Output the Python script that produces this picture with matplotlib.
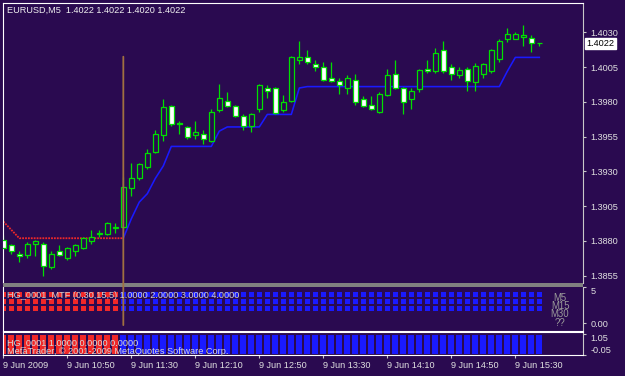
import numpy as np
import matplotlib.pyplot as plt
from matplotlib.patches import Rectangle, ConnectionPatch
from matplotlib.transforms import blended_transform_factory

plt.rcParams['font.family'] = ['Liberation Sans', 'DejaVu Sans']

# ---------------- Données (EURUSD M5, 9 Jun 2009, 10:10 -> 15:45)
opens = [1.3881, 1.3877, 1.3871, 1.3870, 1.3878, 1.3878, 1.3861, 1.3873, 1.3868, 1.3873,
         1.3875, 1.3880, 1.3885, 1.3885, 1.3889, 1.3890, 1.3918, 1.3925, 1.3933, 1.3944,
         1.3956, 1.3977, 1.3965, 1.3962, 1.3956, 1.3957, 1.3952, 1.3974, 1.3981, 1.3977,
         1.3970, 1.3963, 1.3975, 1.3990, 1.3990, 1.3974, 1.3981, 1.4010, 1.4012, 1.4007,
         1.4005, 1.3997, 1.3995, 1.3990, 1.3996, 1.3982, 1.3978, 1.3973, 1.3985, 1.4000,
         1.3990, 1.3982, 1.3989, 1.4004, 1.4002, 1.4017, 1.4005, 1.3999, 1.4004, 1.3994,
         1.4000, 1.4002, 1.4011, 1.4025, 1.4025, 1.4027, 1.4026, 1.4022]
highs = [1.3884, 1.3878, 1.3873, 1.3879, 1.3881, 1.3879, 1.3873, 1.3877, 1.3876, 1.3878,
         1.3883, 1.3888, 1.3888, 1.3894, 1.3893, 1.3926, 1.3936, 1.3936, 1.3946, 1.3960,
         1.3982, 1.3978, 1.3966, 1.3963, 1.3966, 1.3960, 1.3975, 1.3993, 1.3987, 1.3978,
         1.3971, 1.3972, 1.3993, 1.3992, 1.3991, 1.3985, 1.4013, 1.4024, 1.4017, 1.4010,
         1.4009, 1.4009, 1.3997, 1.3999, 1.4000, 1.3984, 1.3984, 1.3987, 1.4004, 1.4010,
         1.3991, 1.3990, 1.4004, 1.4010, 1.4019, 1.4024, 1.4007, 1.4005, 1.4005, 1.4008,
         1.4008, 1.4018, 1.4025, 1.4033, 1.4030, 1.4035, 1.4028, 1.4022]
lows = [1.3874, 1.3871, 1.3865, 1.3868, 1.3869, 1.3855, 1.3860, 1.3869, 1.3866, 1.3869,
        1.3874, 1.3878, 1.3883, 1.3884, 1.3886, 1.3889, 1.3912, 1.3924, 1.3932, 1.3943,
        1.3952, 1.3963, 1.3957, 1.3953, 1.3953, 1.3950, 1.3951, 1.3973, 1.3976, 1.3969,
        1.3960, 1.3958, 1.3973, 1.3983, 1.3971, 1.3973, 1.3980, 1.4007, 1.4007, 1.4002,
        1.3995, 1.3994, 1.3986, 1.3986, 1.3978, 1.3976, 1.3974, 1.3972, 1.3984, 1.3989,
        1.3971, 1.3975, 1.3987, 1.4001, 1.4001, 1.4001, 1.3996, 1.3997, 1.3988, 1.3988,
        1.3997, 1.4001, 1.4009, 1.4023, 1.4025, 1.4020, 1.4016, 1.4020]
closes = [1.3875, 1.3873, 1.3869, 1.3878, 1.3880, 1.3862, 1.3871, 1.3870, 1.3875, 1.3877,
          1.3882, 1.3883, 1.3886, 1.3893, 1.3890, 1.3919, 1.3925, 1.3935, 1.3943, 1.3957,
          1.3976, 1.3964, 1.3964, 1.3955, 1.3958, 1.3953, 1.3973, 1.3983, 1.3977, 1.3970,
          1.3963, 1.3971, 1.3992, 1.3988, 1.3972, 1.3980, 1.4012, 1.4012, 1.4009, 1.4005,
          1.3996, 1.3995, 1.3992, 1.3997, 1.3980, 1.3977, 1.3975, 1.3986, 1.3999, 1.3990,
          1.3980, 1.3988, 1.4003, 1.4002, 1.4015, 1.4002, 1.4000, 1.4003, 1.3995, 1.4006,
          1.4007, 1.4017, 1.4024, 1.4029, 1.4029, 1.4028, 1.4022, 1.4022]

nan = np.nan
# ligne bleue (stop suiveur haussier)
trail_up = [nan, nan, nan, nan, nan, nan, nan, nan, nan, nan,
            nan, nan, nan, nan, nan, 1.3882, 1.3896, 1.3908, 1.3914, 1.3925,
            1.3934, 1.3948, 1.3948, 1.3948, 1.3948, 1.3948, 1.3948, 1.3959, 1.3962, 1.3962,
            1.3962, 1.3962, 1.3962, 1.3971, 1.3971, 1.3971, 1.3971, 1.3990, 1.3991, 1.3991,
            1.3991, 1.3991, 1.3991, 1.3991, 1.3991, 1.3991, 1.3991, 1.3991, 1.3991, 1.3991,
            1.3991, 1.3991, 1.3991, 1.3991, 1.3991, 1.3991, 1.3991, 1.3991, 1.3991, 1.3991,
            1.3991, 1.3991, 1.3991, 1.4002, 1.4012, 1.4012, 1.4012, 1.4012]
# ligne rouge (stop suiveur baissier)
trail_down = [1.3894, 1.3888, 1.3882, 1.3882, 1.3882, 1.3882, 1.3882, 1.3882, 1.3882, 1.3882,
              1.3882, 1.3882, 1.3882, 1.3882, 1.3882, 1.3882]

# état de tendance par barre : -1 rouge, 1 bleu
trend = [-1, -1, -1, -1, -1, -1, -1, -1, -1, -1, -1, -1, -1, -1, -1,
         1, 1, 1, 1, 1, 1, 1, 1, 1, 1, 1, 1, 1, 1, 1, 1, 1, 1, 1, 1,
         1, 1, 1, 1, 1, 1, 1, 1, 1, 1, 1, 1, 1, 1, 1, 1, 1, 1, 1, 1,
         1, 1, 1, 1, 1, 1, 1, 1, 1, 1, 1, 1, 1]
mtf_levels = [4, 3, 2]
mtf_names = ['M5', 'M15', 'M30', '??']
hist_value = 1.0

price_ticks = [1.3855, 1.3880, 1.3905, 1.3930, 1.3955, 1.3980, 1.4005, 1.4030]
time_ticks = [0, 8, 16, 24, 32, 40, 48, 56, 64]
time_labels = ['9 Jun 2009', '9 Jun 10:50', '9 Jun 11:30', '9 Jun 12:10', '9 Jun 12:50',
               '9 Jun 13:30', '9 Jun 14:10', '9 Jun 14:50', '9 Jun 15:30']

# ---------------- Couleurs
BG = '#2a0a50'
GREEN = '#00e000'
BLUE = '#1a1aff'
RED = '#f02828'
TXT = '#e0e0e0'
FS = 6.6

W, H = 625, 376


def box(x0, y0, x1, y1):
    # rectangle en pixels -> coordonnées figure
    return [x0 / W, 1 - y1 / H, (x1 - x0) / W, (y1 - y0) / H]


fig = plt.figure(figsize=(W / 100, H / 100), dpi=100, facecolor=BG)
ax = fig.add_axes(box(3, 3, 583, 283), facecolor=BG)
ax1 = fig.add_axes(box(3, 287, 583, 331), facecolor=BG)
ax2 = fig.add_axes(box(3, 332, 583, 355), facecolor=BG)

x = np.arange(len(opens))
o = np.array(opens)
c = np.array(closes)
cols = [RED if t < 0 else BLUE for t in trend]

# ---------------- Graphique principal : chandeliers
ax.vlines(x, lows, highs, color=GREEN, linewidth=0.9, zorder=2)
fills = np.where(c >= o, BG, 'white')
ax.bar(x, c - o, bottom=o, width=0.55, color=fills, edgecolor=GREEN, linewidth=0.9, zorder=3)
ax.plot(x, trail_up, color=BLUE, linewidth=1.15, zorder=1)
ax.plot(x[:len(trail_down)], trail_down, color=RED, linewidth=1.3,
        linestyle=(0, (1, 0.6)), zorder=1)

ax.set_xlim(-0.04, 72.46)
ax.set_ylim(1.38498, 1.40511)
ax.set_xticks([])
ax.yaxis.tick_right()
ax.set_yticks(price_ticks, ['%.4f' % p for p in price_ticks])
ax.tick_params(axis='y', direction='out', length=2.5, pad=3, color='#c8c8c8',
               labelcolor=TXT, labelsize=FS)
for s in ['top', 'left']:
    ax.spines[s].set_color('white')
ax.spines['right'].set_color('#c8c8c8')
ax.spines['bottom'].set_visible(False)
for s in ax.spines.values():
    s.set_linewidth(0.8)

# prix courant
bt = blended_transform_factory(ax.transAxes, ax.transData)
ax.text(1.006, closes[-1], '%.4f' % closes[-1], transform=bt, ha='left', va='center',
        fontsize=FS, color='black', clip_on=False,
        bbox=dict(facecolor='white', edgecolor='white', pad=0.8))

fig.text(7 / W, 1 - 10.5 / H, 'EURUSD,M5  1.4022 1.4022 1.4020 1.4022',
         color='#f0f0f0', fontsize=FS, va='center')

# séparateur gris
fig.add_artist(Rectangle((3 / W, 1 - 287 / H), 580 / W, 4 / H, transform=fig.transFigure,
                         facecolor='#808080', edgecolor='none'))

# ---------------- Fenêtre 1 : HG_0001_MTF
for lev in mtf_levels:
    ax1.scatter(x, [lev] * len(x), marker='s', s=12, c=cols, linewidths=0)
ax1.set_xlim(-0.04, 72.46)
ax1.set_ylim(-1.06, 5.0)
ax1.set_xticks([])
ax1.yaxis.tick_right()
ax1.set_yticks([5, 0], ['5', '0.00'])
ax1.tick_params(axis='y', direction='out', length=2.5, pad=3, color='#c8c8c8',
                labelcolor=TXT, labelsize=FS)
ax1.get_yticklabels()[0].set_va('top')
ax1.spines['top'].set_visible(False)
ax1.spines['left'].set_color('white')
ax1.spines['bottom'].set_color('white')
ax1.spines['right'].set_color('#c8c8c8')
for s in ax1.spines.values():
    s.set_linewidth(0.8)

fig.text(7 / W, 1 - 295.5 / H, 'HG_0001_MTF (0,30,15,5) 1.0000 2.0000 3.0000 4.0000',
         color='#d0d0d0', fontsize=FS, va='center')
for i, name in enumerate(mtf_names):
    fig.text(560 / W, 1 - (298 + 8.2 * i) / H, name, color='#9a9a9a', fontsize=6.9,
             ha='center', va='center')

# ligne verticale
con = ConnectionPatch(xyA=(15, 1.40125), coordsA=ax.transData,
                      xyB=(15, -0.25), coordsB=ax1.transData,
                      color='#a07040', linewidth=1.3)
fig.add_artist(con)

# ---------------- Fenêtre 2 : HG_0001
ax2.bar(x, [hist_value] * len(x), width=0.78, color=cols, linewidth=0)
ax2.set_xlim(-0.04, 72.46)
ax2.set_ylim(-0.05, 1.13)
ax2.yaxis.tick_right()
ax2.set_yticks([1.05, -0.05], ['1.05', '-0.05'])
ax2.tick_params(axis='y', direction='out', length=2.5, pad=3, color='#c8c8c8',
                labelcolor=TXT, labelsize=FS)
ax2.get_yticklabels()[0].set_va('top')
ax2.get_yticklabels()[1].set_va('bottom')
ax2.set_xticks(time_ticks, time_labels)
ax2.tick_params(axis='x', direction='out', length=2.5, pad=1.5, color='#c8c8c8',
                labelcolor=TXT, labelsize=FS)
plt.setp(ax2.get_xticklabels(), ha='left')
for s in ['top', 'left', 'bottom']:
    ax2.spines[s].set_color('white')
ax2.spines['right'].set_color('#c8c8c8')
for s in ax2.spines.values():
    s.set_linewidth(0.8)

fig.text(7 / W, 1 - 343 / H, 'HG_0001 1.0000 0.0000 0.0000',
         color='#d8d8d8', fontsize=FS, va='center')
fig.text(7 / W, 1 - 351 / H, 'MetaTrader, © 2001-2009 MetaQuotes Software Corp.',
         color='#d8d8d8', fontsize=FS, va='center')

fig.savefig('out.png', dpi=100, facecolor=BG)
